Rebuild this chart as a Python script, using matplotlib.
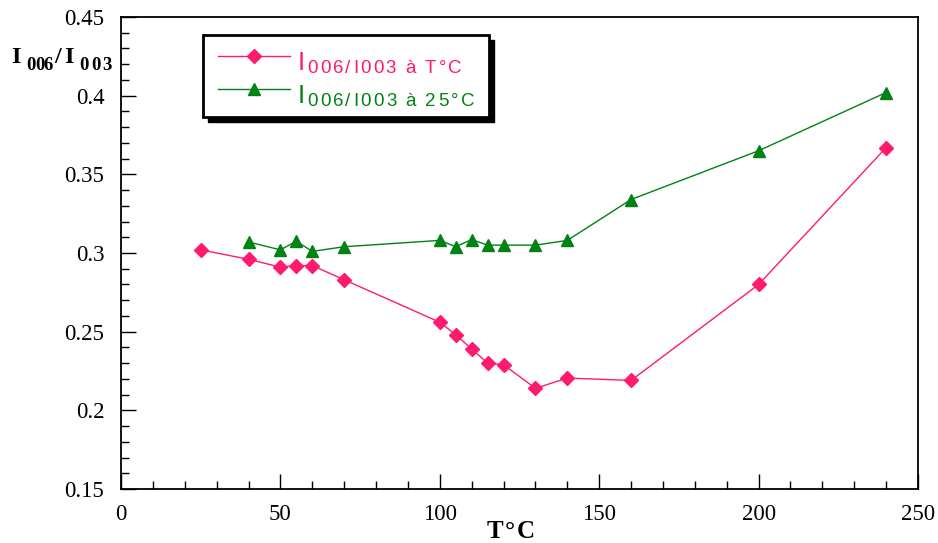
import matplotlib
matplotlib.use("Agg")
import matplotlib.pyplot as plt
from matplotlib.patches import Rectangle
from matplotlib.lines import Line2D
from matplotlib.ticker import MultipleLocator

# Data
temp_T = [25, 40, 50, 55, 60, 70, 100, 105, 110, 115, 120, 130, 140, 160, 200, 240]
ratio_T = [0.302, 0.296, 0.291, 0.292, 0.292, 0.283, 0.256, 0.248, 0.239, 0.230,
           0.229, 0.214, 0.2205, 0.219, 0.280, 0.367]
temp_25 = [40, 50, 55, 60, 70, 100, 105, 110, 115, 120, 130, 140, 160, 200, 240]
ratio_25 = [0.307, 0.302, 0.3075, 0.301, 0.304, 0.308, 0.304, 0.3085, 0.305, 0.305,
            0.305, 0.308, 0.334, 0.365, 0.402]
x_ticks = [0, 50, 100, 150, 200, 250]
y_ticks = [0.15, 0.2, 0.25, 0.3, 0.35, 0.4, 0.45]
y_tick_labels = ["0.15", "0.2", "0.25", "0.3", "0.35", "0.4", "0.45"]
legend_labels = [("I", "006/I003 à T°C"), ("I", "006/I003 à 25°C")]
x_label = "T°C"
y_label_parts = ["I", "006", "/", "I", "003"]

PINK = "#ff1a6e"
GREEN = "#008214"

W, H = 938, 543
fig = plt.figure(figsize=(W / 100, H / 100), dpi=100)
fig.patch.set_facecolor("white")
renderer = fig.canvas.get_renderer()


def fx(px):
    return px / W


def fy(py):
    return 1 - py / H


def tracked(x0, x1, base, s, **kw):
    """Draw string s char by char, spread so that it spans x0..x1 (pixels)."""
    texts, widths = [], []
    for ch in s:
        t = fig.text(0, 0, ch, ha="left", va="baseline", **kw)
        if ch == " ":
            w = 0.25 * kw.get("fontsize", 12) * 100 / 72
        else:
            w = t.get_window_extent(renderer).width
        texts.append(t)
        widths.append(w)
    n = len(s)
    gap = (x1 - x0 - sum(widths)) / max(n - 1, 1)
    cx = x0
    for t, w in zip(texts, widths):
        t.set_position((fx(cx), fy(base)))
        cx += w + gap


ax = fig.add_axes([fx(121), fy(489), fx(918) - fx(121), fy(17) - fy(489)])
ax.plot(temp_T, ratio_T, color=PINK, lw=1.0, marker="D", ms=7, mec=PINK, mfc=PINK)
ax.plot(temp_25, ratio_25, color=GREEN, lw=1.0, marker="^", ms=9, mec=GREEN, mfc=GREEN)

ax.set_xlim(0, 250)
ax.set_ylim(0.15, 0.45)
ax.set_xticks(x_ticks)
ax.set_yticks(y_ticks)
ax.set_yticklabels(y_tick_labels)
ax.xaxis.set_minor_locator(MultipleLocator(10))
ax.yaxis.set_minor_locator(MultipleLocator(0.01))
serif = "Liberation Serif"
for lab in ax.get_xticklabels() + ax.get_yticklabels():
    lab.set_fontfamily(serif)
    lab.set_fontsize(16.5)
ax.tick_params(which="major", direction="in", length=11, width=1.0,
               top=False, right=False)
ax.tick_params(which="minor", direction="in", length=5.5, width=1.0,
               top=False, right=False)
ax.tick_params(axis="x", which="major", pad=11)
ax.tick_params(axis="y", which="major", pad=12)
for s in ax.spines.values():
    s.set_linewidth(1.3)

# Axis labels (pieces with tracking, like the original)
bold_serif = dict(fontfamily=serif, fontweight="bold", color="black")
tracked(11, 25, 63, y_label_parts[0], fontsize=17.5, **bold_serif)
tracked(26, 53, 70, y_label_parts[1], fontsize=13.5, **bold_serif)
tracked(54, 63, 63, y_label_parts[2], fontsize=17.5, **bold_serif)
tracked(64, 78, 63, y_label_parts[3], fontsize=17.5, **bold_serif)
tracked(79, 112, 70, y_label_parts[4], fontsize=13.5, **bold_serif)
tracked(487, 535, 538, x_label, fontsize=18, **bold_serif)

# Legend box with shadow
fig.patches.append(Rectangle((fx(208), fy(122)), fx(489) - fx(203), fy(35) - fy(117),
                             transform=fig.transFigure, facecolor="black",
                             edgecolor="black", zorder=5))
fig.patches.append(Rectangle((fx(203), fy(117)), fx(489) - fx(203), fy(35) - fy(117),
                             transform=fig.transFigure, facecolor="white",
                             edgecolor="black", lw=2.0, zorder=6))
rows = [(56, PINK, "D", 7, 462), (89, GREEN, "^", 9, 474)]
for (yy, col, mk, ms, xend), (big, sub) in zip(rows, legend_labels):
    fig.lines.append(Line2D([fx(218), fx(290)], [fy(yy), fy(yy)],
                            transform=fig.transFigure, color=col, lw=1.0, zorder=7))
    fig.lines.append(Line2D([fx(254)], [fy(yy)], transform=fig.transFigure,
                            color=col, marker=mk, ms=ms, zorder=7))
    fig.text(fx(298), fy(yy + 14), big, color=col, fontsize=18.5,
             fontfamily="Liberation Sans", ha="left", va="baseline", zorder=8)
    tracked(307, xend, yy + 17, sub, color=col, fontsize=13.5,
            fontfamily="Liberation Sans", zorder=8)

fig.savefig("out.png", dpi=100)
